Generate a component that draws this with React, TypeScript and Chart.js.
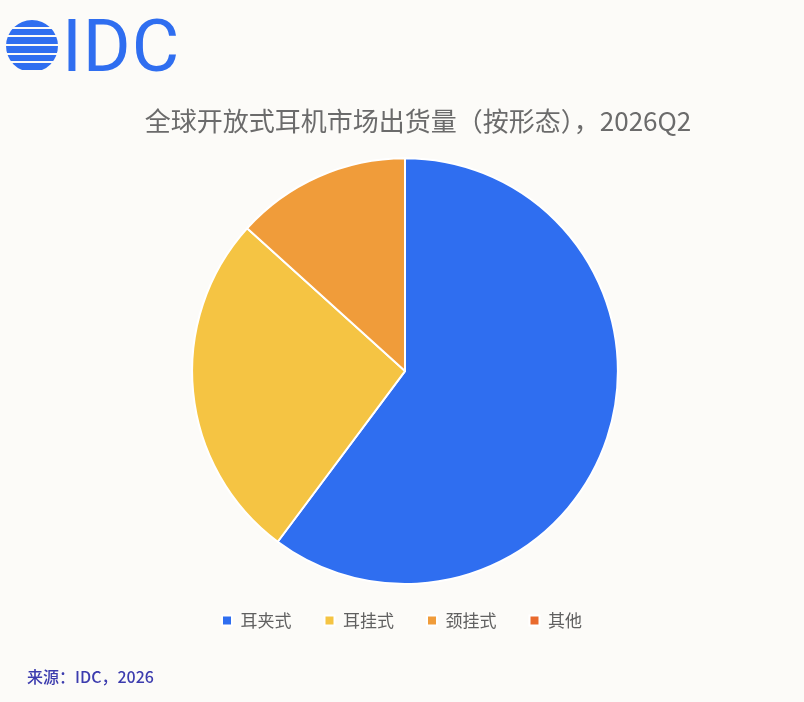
import React, { useEffect, useRef } from "react";
import { Chart, registerables } from "chart.js";

Chart.register(...registerables);

const titleText = "全球开放式耳机市场出货量（按形态），2026Q2";
const categories = ["耳夹式", "耳挂式", "颈挂式", "其他"];
const shares = [60.2, 26.5, 13.3, 0];
const sliceColors = ["#2f6ef0", "#f5c443", "#f09c3a", "#e96a2d"];
const sourceText = "来源：IDC，2026";

const FONT = "'Noto Sans CJK SC', 'Noto Sans', sans-serif";

const nudgePlugin = {
  id: "nudge",
  afterLayout(chart: any) {
    const t = chart.titleBlock;
    if (t) {
      t.left += 13;
      t.right += 13;
    }
    const l = chart.legend;
    if (l) {
      l.top -= 6;
      l.bottom -= 6;
      l.left -= 3;
      l.right -= 3;
    }
  },
};

export default function App() {
  const ref = useRef<HTMLCanvasElement | null>(null);

  useEffect(() => {
    document.body.style.margin = "0";
    if (!ref.current) return;
    const chart = new Chart(ref.current, {
      type: "pie",
      data: {
        labels: categories,
        datasets: [
          {
            data: shares,
            backgroundColor: sliceColors,
            borderColor: "#ffffff",
            borderWidth: 2,
          },
        ],
      },
      plugins: [nudgePlugin],
      options: {
        animation: false,
        responsive: false,
        maintainAspectRatio: false,
        layout: { padding: { top: 0, bottom: 57, left: 6, right: 0 } },
        plugins: {
          title: {
            display: true,
            text: titleText,
            color: "#6b6b6b",
            font: { family: FONT, size: 26, weight: "normal" },
            padding: { top: 106, bottom: 20 },
          },
          legend: {
            position: "bottom",
            labels: {
              color: "#606060",
              font: { family: FONT, size: 17 },
              boxWidth: 10,
              boxHeight: 10,
              padding: 33,
            },
          },
          tooltip: { enabled: false },
        },
      },
    });
    return () => chart.destroy();
  }, []);

  return (
    <div
      style={{
        position: "absolute",
        left: 0,
        top: 0,
        width: 804,
        height: 702,
        background: "#fcfbf8",
        overflow: "hidden",
      }}
    >
      <canvas
        ref={ref}
        width={804}
        height={702}
        style={{ position: "absolute", left: 0, top: 0, width: 804, height: 702 }}
      />
      <div
        style={{
          position: "absolute",
          left: 6,
          top: 20,
          width: 52,
          height: 52,
          borderRadius: "50%",
          background:
            "repeating-linear-gradient(to bottom, #2f6ef0 0px, #2f6ef0 6.5px, #fcfbf8 6.5px, #fcfbf8 8.7px)",
        }}
      />
      <div
        style={{
          position: "absolute",
          left: 62,
          top: 6,
          fontFamily: "Roboto, 'Liberation Sans', sans-serif",
          fontSize: 73,
          lineHeight: "80px",
          color: "#2f6ef0",
          letterSpacing: 1,
        }}
      >
        IDC
      </div>
      <div
        style={{
          position: "absolute",
          left: 27,
          top: 664,
          fontFamily: FONT,
          fontSize: 16,
          fontWeight: 500,
          color: "#3c3cae",
          whiteSpace: "nowrap",
        }}
      >
        {sourceText}
      </div>
    </div>
  );
}
